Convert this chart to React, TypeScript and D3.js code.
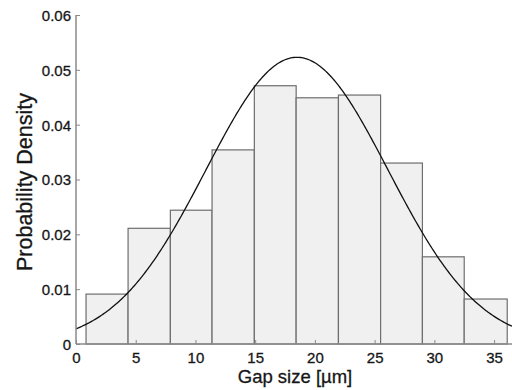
import React, { useEffect, useRef } from "react";
import * as d3 from "d3";

// histogram bin edges (µm) and density per bin
const binEdges = [0.84, 4.36, 7.9, 11.39, 14.93, 18.43, 21.97, 25.5, 29.0, 32.5, 36.1];
const binDensity = [0.0091, 0.0211, 0.0244, 0.0354, 0.0471, 0.0449, 0.0454, 0.033, 0.0159, 0.0082];

// fitted normal curve
const fitMean = 18.5;
const fitSigma = 7.63;

const xTicks = [0, 5, 10, 15, 20, 25, 30, 35];
const yTicks = [0, 0.01, 0.02, 0.03, 0.04, 0.05, 0.06];

const App: React.FC = () => {
  const svgRef = useRef<SVGSVGElement | null>(null);

  useEffect(() => {
    if (!svgRef.current) return;
    const width = 512;
    const height = 390;
    const svg = d3.select(svgRef.current);
    svg.selectAll("*").remove();
    svg.attr("width", width).attr("height", height);

    const x = d3.scaleLinear().domain([0, 36.5]).range([76, 512]);
    const y = d3.scaleLinear().domain([0, 0.06]).range([344, 15]);

    const font = "'Liberation Sans', Arial, sans-serif";
    const axisColor = "#8a8a8a";
    const textColor = "#161616";

    // bars
    const bins = binDensity.map((d, i) => ({ x0: binEdges[i], x1: binEdges[i + 1], d }));
    svg
      .append("g")
      .selectAll("rect")
      .data(bins)
      .enter()
      .append("rect")
      .attr("x", b => x(b.x0))
      .attr("y", b => y(b.d))
      .attr("width", b => x(b.x1) - x(b.x0))
      .attr("height", b => y(0) - y(b.d))
      .attr("fill", "#f0f0f0")
      .attr("stroke", "#6e6e6e")
      .attr("stroke-width", 1.2);

    // normal pdf
    const pdf = (v: number) =>
      Math.exp(-((v - fitMean) ** 2) / (2 * fitSigma * fitSigma)) / (fitSigma * Math.sqrt(2 * Math.PI));
    const xs = d3.range(0, 36.5 + 0.001, 0.1);
    const line = d3
      .line<number>()
      .x(v => x(v))
      .y(v => y(pdf(v)));
    svg
      .append("path")
      .datum(xs)
      .attr("d", line)
      .attr("fill", "none")
      .attr("stroke", "#111")
      .attr("stroke-width", 1.3);

    // axes
    const xAxis = svg
      .append("g")
      .attr("transform", `translate(0,${y(0)})`)
      .call(d3.axisBottom(x).tickValues(xTicks).tickSize(-4).tickFormat(d3.format("d")));
    const yAxis = svg
      .append("g")
      .attr("transform", `translate(${x(0)},0)`)
      .call(
        d3
          .axisLeft(y)
          .tickValues(yTicks)
          .tickSize(-4)
          .tickPadding(5)
          .tickFormat(d => (d === 0 ? "0" : d3.format(".2f")(d as number)))
      );

    [xAxis, yAxis].forEach(a => {
      a.select(".domain").attr("stroke", axisColor).attr("stroke-width", 1.5);
      a.selectAll(".tick line").attr("stroke", axisColor).attr("stroke-width", 1);
      a.selectAll(".tick text")
        .attr("fill", textColor)
        .attr("stroke", textColor)
        .attr("stroke-width", 0.3)
        .style("font-family", font)
        .style("font-size", "15px");
    });
    // domain paths without outer ticks
    xAxis.select(".domain").attr("d", `M${x(0)},0H${x(36.5)}`);
    yAxis.select(".domain").attr("d", `M0,${y(0)}V${y(0.06)}`);
    xAxis.selectAll(".tick text").attr("dy", null).attr("y", 19);
    yAxis.selectAll(".tick text").attr("dy", "0.36em");

    // axis titles
    svg
      .append("text")
      .attr("x", 295)
      .attr("y", 383)
      .attr("text-anchor", "middle")
      .attr("fill", textColor)
      .attr("stroke", textColor)
      .attr("stroke-width", 0.3)
      .style("font-family", font)
      .style("font-size", "18.5px")
      .text("Gap size [µm]");

    svg
      .append("text")
      .attr("transform", "translate(32,182) rotate(-90)")
      .attr("text-anchor", "middle")
      .attr("fill", textColor)
      .attr("stroke", textColor)
      .attr("stroke-width", 0.3)
      .style("font-family", font)
      .style("font-size", "21.5px")
      .text("Probability Density");
  }, []);

  return <svg ref={svgRef} style={{ position: "absolute", left: 0, top: 0, background: "#fff" }}></svg>;
};

export default App;
